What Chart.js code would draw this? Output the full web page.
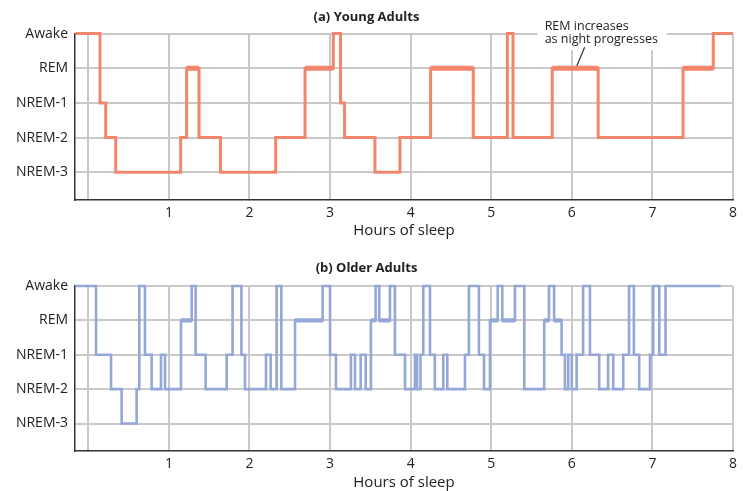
<!DOCTYPE html>
<html><head><meta charset="utf-8">
<script src="https://cdn.jsdelivr.net/npm/chart.js@4.4.0/dist/chart.umd.min.js"></script>
<style>
html,body{margin:0;padding:0;background:#fff;}
#wrap{position:relative;width:743px;height:491px;overflow:hidden;}
canvas{position:absolute;left:0;}
</style></head><body>
<div id="wrap">
<canvas id="young" width="743" height="240" style="top:0"></canvas>
<canvas id="older" width="743" height="241" style="top:250px"></canvas>
</div>
<script>
// ---- data ----
const stageOrder = ['NREM-3', 'NREM-2', 'NREM-1', 'REM', 'Awake'];
const hourTicks = [0, 1, 2, 3, 4, 5, 6, 7, 8];

const youngTimes = [-0.16, 0.145, 0.216, 0.34, 1.146, 1.22, 1.374, 1.64, 2.325, 2.69, 3.04, 3.13, 3.18, 3.557, 3.867, 4.248, 4.777, 5.2, 5.27, 5.757, 6.327, 7.38, 7.755, 8.0];
const youngStages = ['Awake','NREM-1','NREM-2','NREM-3','NREM-2','REM','NREM-2','NREM-3','NREM-2','REM','Awake','NREM-1','NREM-2','NREM-3','NREM-2','REM','NREM-2','Awake','NREM-2','REM','NREM-2','REM','Awake','Awake'];

const olderTimes = [-0.16, 0.096, 0.282, 0.414, 0.600, 0.633, 0.703, 0.786, 0.902, 0.952, 1.150, 1.283, 1.332, 1.456, 1.717, 1.790, 1.900, 1.944, 2.205, 2.263, 2.337, 2.395, 2.565, 2.908, 3.000, 3.073, 3.259, 3.309, 3.380, 3.442, 3.507, 3.565, 3.610, 3.743, 3.805, 3.930, 4.053, 4.080, 4.122, 4.157, 4.240, 4.300, 4.405, 4.455, 4.674, 4.723, 4.847, 4.910, 4.984, 5.080, 5.137, 5.294, 5.410, 5.657, 5.716, 5.780, 5.873, 5.914, 5.955, 5.999, 6.060, 6.140, 6.225, 6.340, 6.450, 6.514, 6.638, 6.710, 6.770, 6.836, 6.970, 7.010, 7.085, 7.163, 7.846];
const olderStages = ['Awake','NREM-1','NREM-2','NREM-3','NREM-2','Awake','NREM-1','NREM-2','NREM-1','NREM-2','REM','Awake','NREM-1','NREM-2','NREM-1','Awake','NREM-1','NREM-2','NREM-1','NREM-2','Awake','NREM-2','REM','Awake','NREM-1','NREM-2','NREM-1','NREM-2','NREM-1','NREM-2','REM','Awake','REM','Awake','NREM-1','NREM-2','NREM-1','NREM-2','NREM-1','Awake','NREM-1','NREM-2','NREM-1','NREM-2','NREM-1','Awake','NREM-1','NREM-2','REM','Awake','REM','Awake','NREM-2','REM','Awake','REM','NREM-1','NREM-2','NREM-1','NREM-2','NREM-1','Awake','NREM-1','NREM-2','NREM-1','NREM-2','NREM-1','Awake','NREM-1','NREM-2','NREM-1','Awake','NREM-1','Awake','Awake'];

const youngNote = { x: 6.06, stage: 'REM', lines: ['REM increases', 'as night progresses'] };

// ---- helpers ----
const FONT = 'Open Sans';
function toPoints(times, stages) {
  return times.map((t, i) => ({ x: t, y: stageOrder.indexOf(stages[i]) }));
}
function remPoints(times, stages) {
  const out = [];
  for (let i = 0; i < times.length - 1; i++) {
    if (stages[i] === 'REM') {
      const v = stageOrder.indexOf('REM');
      out.push({ x: times[i], y: v }, { x: times[i + 1], y: v }, { x: times[i + 1], y: null });
    }
  }
  return out;
}

const notePlugin = {
  id: 'remNote',
  beforeDatasetsDraw(chart, args, opts) {
    const note = opts.note;
    if (!note) return;
    const { ctx } = chart;
    const xs = chart.scales.x, ys = chart.scales.y;
    const ax = xs.getPixelForValue(note.x);
    const ay = ys.getPixelForValue(stageOrder.indexOf(note.stage));
    ctx.save();
    ctx.fillStyle = '#fff';
    ctx.fillRect(ax - 39, ay - 50, 129, 32);
    ctx.fillStyle = '#222';
    ctx.font = '12.5px "' + FONT + '"';
    ctx.textBaseline = 'middle';
    ctx.textAlign = 'left';
    ctx.fillText(note.lines[0], ax - 32, ay - 42);
    ctx.fillText(note.lines[1], ax - 32, ay - 29);
    ctx.strokeStyle = '#333';
    ctx.lineWidth = 1.2;
    ctx.beginPath();
    ctx.moveTo(ax + 8, ay - 21);
    ctx.lineTo(ax, ay - 2);
    ctx.stroke();
    ctx.restore();
  }
};

function makeChart(id, times, stages, color, lw, remW, title, tPad, axisPadBottom, note) {
  const grid = { color: '#c9c9c9', lineWidth: 2, drawTicks: false };
  const border = { display: true, color: '#333', width: 1.5 };
  return new Chart(document.getElementById(id), {
    type: 'line',
    data: {
      datasets: [
        { data: toPoints(times, stages), borderColor: color, borderWidth: lw, stepped: 'before',
          pointRadius: 0, fill: false, clip: 8, borderJoinStyle: 'miter', borderCapStyle: 'butt' },
        { data: remPoints(times, stages), borderColor: color, borderWidth: remW, stepped: 'before',
          pointRadius: 0, fill: false, clip: 8, spanGaps: false, borderCapStyle: 'butt' }
      ]
    },
    options: {
      responsive: false,
      animation: false,
      layout: { padding: { left: 0, right: 10, top: 0, bottom: 0 } },
      plugins: {
        legend: { display: false },
        tooltip: { enabled: false },
        title: { display: true, text: title, color: '#222',
          font: { family: FONT, size: 13, weight: 'bold' }, padding: tPad },
        remNote: { note: note }
      },
      scales: {
        x: {
          type: 'linear', min: -0.165, max: 8,
          afterBuildTicks: s => { s.ticks = hourTicks.map(v => ({ value: v })); },
          afterFit: s => { s.height = 40; },
          ticks: { callback: v => (v === 0 ? '' : String(v)), color: '#222', padding: 5,
            font: { family: FONT, size: 14 }, maxRotation: 0, autoSkip: false },
          grid: grid, border: border,
          title: { display: true, text: 'Hours of sleep', color: '#222',
            font: { family: FONT, size: 15, lineHeight: 1.0 }, padding: { top: 0, bottom: axisPadBottom } }
        },
        y: {
          type: 'linear', min: -0.8, max: 4,
          afterBuildTicks: s => { s.ticks = stageOrder.map((_, i) => ({ value: i })); },
          afterFit: s => { s.width = 75; },
          ticks: { callback: v => stageOrder[v], color: '#222', padding: 7,
            font: { family: FONT, size: 14 } },
          grid: grid, border: border
        }
      }
    },
    plugins: [notePlugin]
  });
}

makeChart('young', youngTimes, youngStages, '#f2866d', 3, 5, '(a) Young Adults', { top: 9, bottom: 9 }, 1.5, youngNote);
makeChart('older', olderTimes, olderStages, '#95a7d7', 2.6, 4.2, '(b) Older Adults', { top: 10.2, bottom: 10.2 }, 0.5, null);
</script>
</body></html>
